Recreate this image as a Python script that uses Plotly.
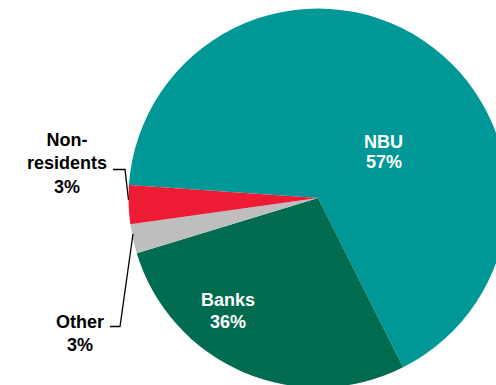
import plotly.graph_objects as go

# ---- data ----
segments = ["NBU", "Banks", "Other", "Non-residents"]
slice_sizes = [66.5, 27.7, 2.5, 3.3]          # slice sizes as drawn
printed_pct = [57, 36, 3, 3]                  # percentages printed on the chart
label_names = ["NBU", "Banks", "Other", "Non-<br>residents"]
colors = ["#009797", "#006B4F", "#BEBEBE", "#ED1B33"]

# ---- layout geometry (pixels) ----
W, H = 640, 400
cx, cy, r = 318, 198, 189.5

fig = go.Figure(go.Pie(
    labels=segments,
    values=slice_sizes,
    sort=False,
    direction="clockwise",
    rotation=-86.1,
    marker=dict(colors=colors, line=dict(width=0)),
    textinfo="none",
    hoverinfo="label+percent",
    domain=dict(x=[(cx - r) / W, (cx + r) / W],
                y=[1 - (cy + r) / H, 1 - (cy - r) / H]),
    showlegend=False,
))

FONT = "Liberation Sans, Arial, sans-serif"

# inside labels: (x, first-line y, line gap, colour)
inside_pos = {"NBU": (383.5, 141.5, 20.5, "white"),
              "Banks": (228, 300, 21.5, "white")}
# outside labels: (x, centre y, colour)
outside_pos = {"Other": (80, 333, "black"),
               "Non-residents": (67, 163, "black")}

for seg, name, pct in zip(segments, label_names, printed_pct):
    if seg in inside_pos:
        px, py, gap, col = inside_pos[seg]
        for i, line in enumerate([name, f"{pct}%"]):
            fig.add_annotation(
                x=px / W, y=1 - (py + i * gap) / H, xref="paper", yref="paper",
                text=f"<b>{line}</b>", showarrow=False,
                font=dict(family=FONT, size=18, color=col),
                xanchor="center", yanchor="middle",
            )
    else:
        px, py, col = outside_pos[seg]
        fig.add_annotation(
            x=px / W, y=1 - py / H, xref="paper", yref="paper",
            text=f"<b>{name}<br>{pct}%</b>", showarrow=False,
            font=dict(family=FONT, size=18, color=col),
            align="center", xanchor="center", yanchor="middle",
        )

def pth(pts):
    return "M " + " L ".join(f"{x / W},{1 - y / H}" for x, y in pts)

# leader lines
fig.add_shape(type="path", xref="paper", yref="paper",
              path=pth([(113, 169.5), (125, 169.5), (128.5, 200)]),
              line=dict(color="black", width=1.3))
fig.add_shape(type="path", xref="paper", yref="paper",
              path=pth([(110, 326.5), (120, 326.5), (133, 234)]),
              line=dict(color="black", width=1.3))

fig.update_layout(width=W, height=H, margin=dict(l=0, r=0, t=0, b=0),
                  paper_bgcolor="white", plot_bgcolor="white")

fig.write_html("out.html", config={"displayModeBar": False},
               post_script="document.body.style.overflow='hidden';"
                           "document.documentElement.style.overflow='hidden';"
                           "document.body.style.margin='0';")
